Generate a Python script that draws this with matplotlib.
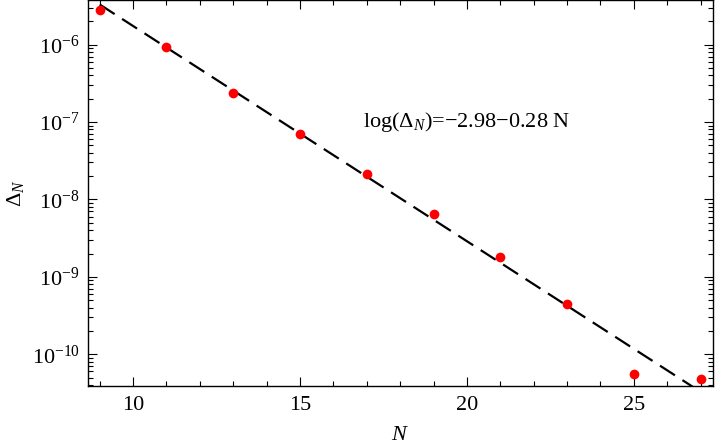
import numpy as np
import matplotlib
matplotlib.use("Agg")
import matplotlib.pyplot as plt
from matplotlib.ticker import MultipleLocator, LogLocator, NullFormatter, FixedLocator

plt.rcParams['font.family'] = ['Liberation Serif', 'DejaVu Serif']
plt.rcParams['mathtext.fontset'] = 'custom'
plt.rcParams['mathtext.rm'] = 'Liberation Serif'
plt.rcParams['mathtext.it'] = 'Liberation Serif:italic'
plt.rcParams['mathtext.bf'] = 'Liberation Serif:bold'

# Data
N_values = [9, 11, 13, 15, 17, 19, 21, 23, 25, 27]
delta_values = [2.8e-6, 9.4e-7, 2.34e-7, 6.9e-8, 2.1e-8, 6.4e-9, 1.8e-9, 4.5e-10, 5.5e-11, 4.8e-11]
fit_intercept = -2.98
fit_slope = -0.278
x_ticks = [10, 15, 20, 25]
y_ticks = [1e-10, 1e-9, 1e-8, 1e-7, 1e-6]
y_ticklabels = [r'$10^{-10}$', r'$10^{-9}$', r'$10^{-8}$', r'$10^{-7}$', r'$10^{-6}$']

fig = plt.figure(figsize=(7.2, 4.46), dpi=100)
ax = fig.add_axes([88/720, 1-386/446, (713-88)/720, 386/446 - 0.001])

N_fit = np.linspace(min(N_values), max(N_values), 200)
ax.plot(N_fit, 10**(fit_intercept + fit_slope*N_fit), color='black', lw=1.6,
        dashes=(8, 4), zorder=2)
ax.plot(N_values, delta_values, 'o', color='#ff0000', ms=7, mec='none', zorder=3)

ax.set_yscale('log')
ax.set_xlim(8.65, 27.37)
ax.set_ylim(10**-10.41, 10**-5.43)

ax.xaxis.set_major_locator(FixedLocator(x_ticks))
ax.xaxis.set_minor_locator(MultipleLocator(1))
ax.set_yticks(y_ticks)
ax.set_yticklabels(y_ticklabels)
ax.yaxis.set_minor_locator(LogLocator(base=10, subs=np.arange(2, 10), numticks=20))
ax.yaxis.set_minor_formatter(NullFormatter())

ax.tick_params(which='both', direction='in', top=True, right=True, width=0.8, labelsize=16)
ax.tick_params(which='major', length=6.5)
ax.tick_params(which='minor', length=3.5)
ax.tick_params(axis='x', pad=7)
ax.tick_params(axis='y', pad=6)
for s in ax.spines.values():
    s.set_linewidth(1.0)

ax.set_xlabel(r'$N$', fontsize=16, labelpad=8)
ax.set_ylabel(r'$\Delta_N$', fontsize=16, labelpad=4)

ax.text(20, 1e-7, r'log($\Delta_{N}$)=$-$2.98$-$0.28 N', fontsize=16,
        ha='center', va='center')

fig.savefig('out.png', dpi=100)
